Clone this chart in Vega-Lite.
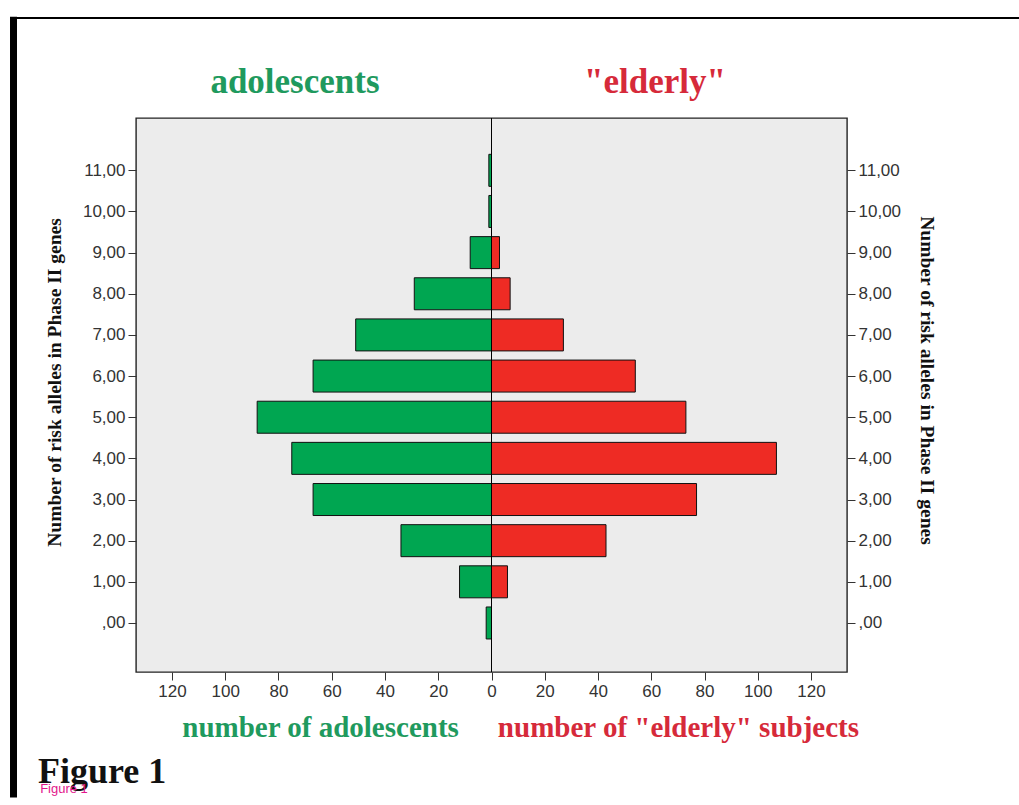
{
  "$schema": "https://vega.github.io/schema/vega-lite/v6.json",
  "autosize": {"type": "none"},
  "padding": {"left": 136, "top": 118, "right": 172, "bottom": 133},
  "background": "white",
  "width": 711,
  "height": 554,
  "datasets": {
    "adolescents": [
      {"alleles": 0, "count": 2},
      {"alleles": 1, "count": 12},
      {"alleles": 2, "count": 34},
      {"alleles": 3, "count": 67},
      {"alleles": 4, "count": 75},
      {"alleles": 5, "count": 88},
      {"alleles": 6, "count": 67},
      {"alleles": 7, "count": 51},
      {"alleles": 8, "count": 29},
      {"alleles": 9, "count": 8},
      {"alleles": 10, "count": 1},
      {"alleles": 11, "count": 1}
    ],
    "elderly": [
      {"alleles": 1, "count": 6},
      {"alleles": 2, "count": 43},
      {"alleles": 3, "count": 77},
      {"alleles": 4, "count": 107},
      {"alleles": 5, "count": 73},
      {"alleles": 6, "count": 54},
      {"alleles": 7, "count": 27},
      {"alleles": 8, "count": 7},
      {"alleles": 9, "count": 3}
    ],
    "one": [{}]
  },
  "resolve": {"scale": {"x": "independent"}, "axis": {"y": "independent"}},
  "layer": [
    {
      "data": {"name": "adolescents"},
      "mark": {"type": "bar", "orient": "horizontal", "height": 32, "fill": "#00A651", "stroke": "#111111", "strokeWidth": 1},
      "encoding": {
        "x": {
          "field": "count", "type": "quantitative",
          "scale": {"domain": [-133.5, 133.5], "reverse": true, "nice": false, "zero": false},
          "axis": null
        },
        "y": {
          "field": "alleles", "type": "quantitative",
          "scale": {"domain": [-1.07, 12.15], "nice": false, "zero": false},
          "axis": {
            "orient": "left",
            "values": [0, 1, 2, 3, 4, 5, 6, 7, 8, 9, 10, 11],
            "labelExpr": "datum.value == 0 ? ',00' : replace(format(datum.value, '.2f'), '.', ',')",
            "title": "Number of risk alleles in Phase II genes",
            "titleFontSize": 19.5,
            "titleColor": "#111111",
            "titlePadding": 18,
            "titleY": 264
          }
        }
      }
    },
    {
      "layer": [
        {
          "data": {"name": "elderly"},
          "mark": {"type": "bar", "orient": "horizontal", "height": 32, "fill": "#EE2B24", "stroke": "#111111", "strokeWidth": 1},
          "encoding": {
            "x": {
              "field": "count", "type": "quantitative",
              "scale": {"domain": [-133.5, 133.5], "nice": false, "zero": false},
              "axis": {"values": [-120, -100, -80, -60, -40, -20, 0, 20, 40, 60, 80, 100, 120], "labelExpr": "abs(datum.value)", "title": null}
            },
            "y": {
              "field": "alleles", "type": "quantitative",
              "scale": {"domain": [-1.07, 12.15], "nice": false, "zero": false},
              "axis": {
                "orient": "right",
                "values": [0, 1, 2, 3, 4, 5, 6, 7, 8, 9, 10, 11],
                "labelExpr": "datum.value == 0 ? ',00' : replace(format(datum.value, '.2f'), '.', ',')",
                "title": "Number of risk alleles in Phase II genes",
                "titleFontSize": 19.5,
                "titleColor": "#111111",
                "titlePadding": 16,
                "titleY": 262
              }
            }
          }
        },
        {
          "data": {"name": "one"},
          "mark": {"type": "rule", "color": "#000000", "strokeWidth": 1},
          "encoding": {"x": {"datum": 0}}
        },
        {
          "data": {"name": "one"},
          "mark": {"type": "rule", "clip": false, "color": "#000000", "strokeWidth": 2},
          "encoding": {"x": {"datum": -180.8}, "x2": {"datum": 198.1}, "y": {"datum": 14.7}}
        },
        {
          "data": {"name": "one"},
          "mark": {"type": "rule", "clip": false, "color": "#000000", "strokeWidth": 7},
          "encoding": {"x": {"datum": -179.5}, "y": {"datum": 14.73}, "y2": {"datum": -4.24}}
        },
        {
          "data": {"name": "one"},
          "mark": {"type": "text", "clip": false, "font": "Liberation Serif", "fontWeight": "bold", "fontSize": 35, "color": "#1f9a5e", "align": "center", "baseline": "alphabetic"},
          "encoding": {"x": {"datum": -73.8}, "y": {"datum": 12.89}, "text": {"value": "adolescents"}}
        },
        {
          "data": {"name": "one"},
          "mark": {"type": "text", "clip": false, "font": "Liberation Serif", "fontWeight": "bold", "fontSize": 35, "color": "#d62a3a", "align": "center", "baseline": "alphabetic"},
          "encoding": {"x": {"datum": 61.4}, "y": {"datum": 12.89}, "text": {"value": "\"elderly\""}}
        },
        {
          "data": {"name": "one"},
          "mark": {"type": "text", "clip": false, "font": "Liberation Serif", "fontWeight": "bold", "fontSize": 29, "color": "#1f9a5e", "align": "center", "baseline": "alphabetic"},
          "encoding": {"x": {"datum": -64.2}, "y": {"datum": -2.76}, "text": {"value": "number of adolescents"}}
        },
        {
          "data": {"name": "one"},
          "mark": {"type": "text", "clip": false, "font": "Liberation Serif", "fontWeight": "bold", "fontSize": 29, "color": "#d62a3a", "align": "center", "baseline": "alphabetic"},
          "encoding": {"x": {"datum": 70.2}, "y": {"datum": -2.76}, "text": {"value": "number of \"elderly\" subjects"}}
        },
        {
          "data": {"name": "one"},
          "mark": {"type": "text", "clip": false, "font": "Liberation Serif", "fontWeight": "bold", "fontSize": 36, "color": "#111111", "align": "left", "baseline": "alphabetic"},
          "encoding": {"x": {"datum": -170.3}, "y": {"datum": -3.88}, "text": {"value": "Figure 1"}}
        },
        {
          "data": {"name": "one"},
          "mark": {"type": "text", "clip": false, "font": "Liberation Sans", "fontSize": 13, "color": "#e2168c", "align": "left", "baseline": "alphabetic"},
          "encoding": {"x": {"datum": -169.5}, "y": {"datum": -4.12}, "text": {"value": "Figure 1"}}
        }
      ]
    }
  ],
  "config": {
    "view": {"fill": "#ECECEC", "stroke": "#222222", "strokeWidth": 1.4},
    "axis": {
      "grid": false,
      "domain": false,
      "labelFont": "Liberation Sans",
      "labelFontSize": 17,
      "labelColor": "#333333",
      "tickColor": "#333333",
      "tickSize": 8,
      "labelPadding": 3,
      "titleFont": "Liberation Serif",
      "titleFontWeight": "bold"
    }
  }
}
